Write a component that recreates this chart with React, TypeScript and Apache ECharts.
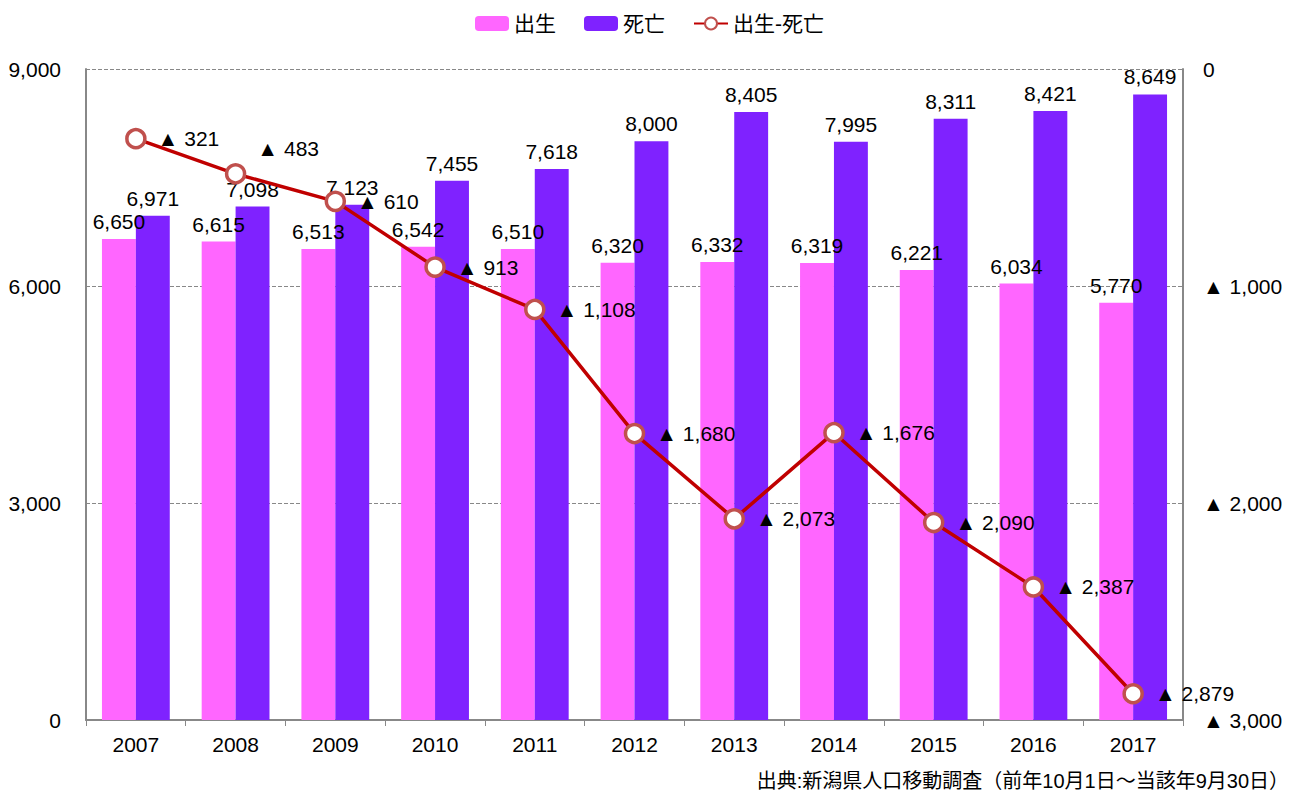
import React, { useEffect, useRef } from "react";
import * as echarts from "echarts";

const years = ["2007", "2008", "2009", "2010", "2011", "2012", "2013", "2014", "2015", "2016", "2017"];
const births = [6650, 6615, 6513, 6542, 6510, 6320, 6332, 6319, 6221, 6034, 5770];
const deaths = [6971, 7098, 7123, 7455, 7618, 8000, 8405, 7995, 8311, 8421, 8649];
const naturalDecrease = [321, 483, 610, 913, 1108, 1680, 2073, 1676, 2090, 2387, 2879];
const sourceNote = "出典:新潟県人口移動調査（前年10月1日～当該年9月30日）";

const FONT = "'Liberation Sans', Arial, 'Noto Sans CJK JP', sans-serif";
const FS = 21;
const fmt = (v: number) => v.toLocaleString("en-US");

export default function App() {
  const ref = useRef<HTMLDivElement>(null);
  useEffect(() => {
    if (!ref.current) return;
    const chart = echarts.init(ref.current, undefined, { renderer: "svg" });
    chart.setOption({
      animation: false,
      backgroundColor: "#fff",
      textStyle: { fontFamily: FONT, color: "#000" },
      legend: {
        top: 8,
        left: "center",
        itemWidth: 34,
        itemHeight: 15,
        itemGap: 28,
        textStyle: { fontSize: FS, color: "#000", fontFamily: FONT },
        data: ["出生", "死亡", "出生-死亡"],
      },
      grid: { left: 86, right: 116, top: 69, bottom: 73 },
      xAxis: {
        type: "category",
        data: years,
        axisLine: { lineStyle: { color: "#888", width: 2 } },
        axisTick: { show: true, alignWithLabel: false, length: 6, lineStyle: { color: "#888" } },
        axisLabel: { fontSize: FS, color: "#000", margin: 14, fontFamily: FONT },
      },
      yAxis: [
        {
          type: "value",
          min: 0,
          max: 9000,
          interval: 3000,
          axisLine: { show: true, lineStyle: { color: "#888", width: 2 } },
          axisTick: { show: false },
          axisLabel: { fontSize: FS, color: "#000", margin: 25, formatter: (v: number) => fmt(v), fontFamily: FONT },
          splitLine: { show: true, lineStyle: { color: "#888", type: "dashed", width: 1 } },
        },
        {
          type: "value",
          min: 0,
          max: 3000,
          interval: 1000,
          inverse: true,
          position: "right",
          axisLine: { show: true, lineStyle: { color: "#888", width: 2 } },
          axisTick: { show: false },
          axisLabel: {
            fontSize: FS,
            color: "#000",
            margin: 20,
            fontFamily: FONT,
            formatter: (v: number) => (v === 0 ? "0" : "▲ " + fmt(v)),
          },
          splitLine: { show: false },
        },
      ],
      series: [
        {
          name: "出生",
          type: "bar",
          data: births,
          barGap: "0%",
          barCategoryGap: "32%",
          itemStyle: { color: "#FF66FF" },
          label: { show: true, position: "top", fontSize: FS, color: "#000", distance: 7, formatter: (p: any) => fmt(p.value), fontFamily: FONT },
        },
        {
          name: "死亡",
          type: "bar",
          data: deaths,
          itemStyle: { color: "#7F22FF" },
          label: { show: true, position: "top", fontSize: FS, color: "#000", distance: 7, formatter: (p: any) => fmt(p.value), fontFamily: FONT },
        },
        {
          name: "出生-死亡",
          type: "line",
          yAxisIndex: 1,
          data: naturalDecrease.map((v, i) => (i === 1 ? { value: v, label: { offset: [0, -25] } } : v)),
          symbol: "circle",
          symbolSize: 18,
          lineStyle: { color: "#C00000", width: 3.5 },
          itemStyle: { color: "#fff", borderColor: "#C0504D", borderWidth: 3.5 },
          label: {
            show: true,
            position: "right",
            distance: 11,
            fontSize: FS,
            color: "#000",
            fontFamily: FONT,
            formatter: (p: any) => "▲ " + fmt(p.value),
          },
          z: 5,
        },
      ],
      graphic: [
        {
          type: "text",
          right: 10,
          top: 771,
          style: { text: sourceNote, fontSize: 20, fill: "#000", fontFamily: FONT },
        },
      ],
    });
    return () => chart.dispose();
  }, []);
  return <div ref={ref} style={{ position: "absolute", left: 0, top: 0, width: 1299, height: 793 }} />;
}
